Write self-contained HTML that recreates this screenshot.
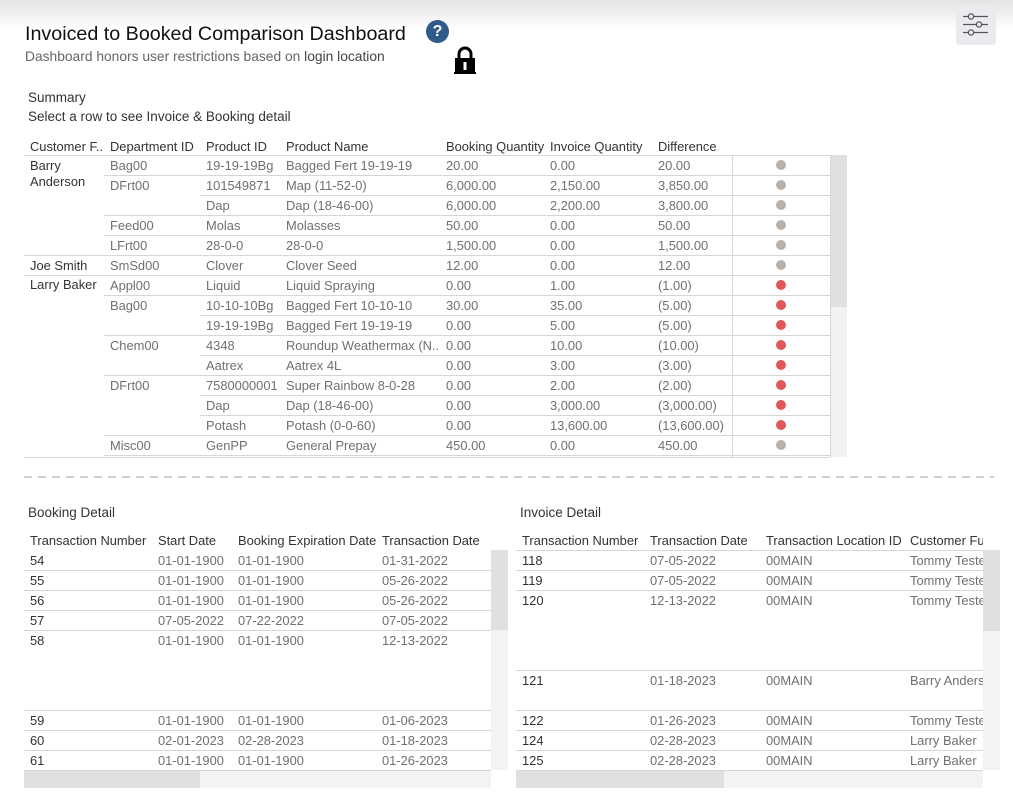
<!DOCTYPE html>
<html><head><meta charset="utf-8">
<style>
*{margin:0;padding:0;box-sizing:border-box}
body{width:1013px;height:805px;position:relative;overflow:hidden;background:#fff;font-family:"Liberation Sans",sans-serif}
.a{position:absolute;white-space:nowrap}
.t{position:absolute;white-space:nowrap;font-size:12.9px;line-height:20px;color:#707070;margin-top:1px}
.h{color:#333}
.d{color:#333}
.ln{position:absolute;height:1px;background:#d6d6d6}
.vl{position:absolute;width:1px;background:#d6d6d6}
.dot{position:absolute;width:10px;height:10px;border-radius:50%}
.g{background:#bab0ac}
.r{background:#e15759}
.sb{position:absolute}
</style></head><body>
<div class="a" style="left:0;top:0;width:1013px;height:30px;background:linear-gradient(#e4e4e4,#fff)"></div>

<div class="a" style="left:25px;top:22px;font-size:19.7px;color:#111;line-height:24px">Invoiced to Booked Comparison Dashboard</div>
<div class="a" style="left:25px;top:48px;font-size:13.8px;color:#666;line-height:17px">Dashboard honors user restrictions based on <span style="color:#444">login location</span></div>

<div class="a" style="left:426px;top:20px;width:23px;height:23px;border-radius:50%;background:#2f5b88;color:#fff;font-size:16px;font-weight:bold;text-align:center;line-height:23px">?</div>
<svg class="a" style="left:453px;top:46px" width="24" height="30" viewBox="0 0 24 30">
<path d="M6 13 V8 a6 6 0 0 1 12 0 V13" fill="none" stroke="#000" stroke-width="3"/>
<rect x="2" y="12" width="20" height="16" fill="#000"/>
<rect x="1" y="26" width="22" height="2" fill="#000"/>
<rect x="10.5" y="16" width="3" height="8" fill="#fff"/>
</svg>

<div class="a" style="left:956px;top:5px;width:40px;height:40px;background:#ebebef;border-radius:3px"></div>
<svg class="a" style="left:956px;top:5px" width="40" height="40">
<g stroke="#555" stroke-width="1.3" fill="#ebebef">
<line x1="7" y1="11.5" x2="32" y2="11.5"/>
<line x1="7" y1="19.5" x2="32" y2="19.5"/>
<line x1="7" y1="27.5" x2="32" y2="27.5"/>
<circle cx="15" cy="11.5" r="2.6"/>
<circle cx="23" cy="19.5" r="2.6"/>
<circle cx="15" cy="27.5" r="2.6"/>
</g></svg>

<div class="a" style="left:28px;top:89px;font-size:13.5px;color:#333;line-height:17px">Summary</div>
<div class="a" style="left:28px;top:108px;font-size:13.5px;color:#333;line-height:17px">Select a row to see Invoice &amp; Booking detail</div>

<!-- Summary header -->
<div class="t h" style="left:30px;top:136px">Customer F..</div>
<div class="t h" style="left:110px;top:136px">Department ID</div>
<div class="t h" style="left:206px;top:136px">Product ID</div>
<div class="t h" style="left:286px;top:136px">Product Name</div>
<div class="t h" style="left:446px;top:136px">Booking Quantity</div>
<div class="t h" style="left:550px;top:136px">Invoice Quantity</div>
<div class="t h" style="left:658px;top:136px">Difference</div>
<div class="ln" style="left:24px;top:155px;width:806px"></div>

<!-- scrollbar summary -->
<div class="sb" style="left:830px;top:155px;width:17px;height:152px;background:#e0e0e0"></div>
<div class="sb" style="left:830px;top:307px;width:17px;height:150px;background:#f2f2f2"></div>
<div class="vl" style="left:732px;top:155px;height:302px"></div>
<div class="vl" style="left:830px;top:155px;height:302px"></div>

<!-- row lines -->
<div class="ln" style="left:104px;top:175px;width:726px"></div>
<div class="ln" style="left:200px;top:195px;width:630px"></div>
<div class="ln" style="left:104px;top:215px;width:726px"></div>
<div class="ln" style="left:104px;top:235px;width:726px"></div>
<div class="ln" style="left:24px;top:255px;width:806px"></div>
<div class="ln" style="left:24px;top:275px;width:806px"></div>
<div class="ln" style="left:104px;top:295px;width:726px"></div>
<div class="ln" style="left:200px;top:315px;width:630px"></div>
<div class="ln" style="left:104px;top:335px;width:726px"></div>
<div class="ln" style="left:200px;top:355px;width:630px"></div>
<div class="ln" style="left:104px;top:375px;width:726px"></div>
<div class="ln" style="left:200px;top:395px;width:630px"></div>
<div class="ln" style="left:200px;top:415px;width:630px"></div>
<div class="ln" style="left:104px;top:435px;width:726px"></div>
<div class="ln" style="left:104px;top:455px;width:726px"></div>
<div class="ln" style="left:24px;top:457px;width:806px"></div>

<!-- customers -->
<div class="t d" style="left:30px;top:155px">Barry</div>
<div class="t d" style="left:30px;top:171px">Anderson</div>
<div class="t d" style="left:30px;top:255px">Joe Smith</div>
<div class="t d" style="left:30px;top:274px">Larry Baker</div>

<!-- departments -->
<div class="t" style="left:110px;top:155px">Bag00</div>
<div class="t" style="left:110px;top:175px">DFrt00</div>
<div class="t" style="left:110px;top:215px">Feed00</div>
<div class="t" style="left:110px;top:235px">LFrt00</div>
<div class="t" style="left:110px;top:255px">SmSd00</div>
<div class="t" style="left:110px;top:275px">Appl00</div>
<div class="t" style="left:110px;top:295px">Bag00</div>
<div class="t" style="left:110px;top:335px">Chem00</div>
<div class="t" style="left:110px;top:375px">DFrt00</div>
<div class="t" style="left:110px;top:435px">Misc00</div>

<!-- product id -->
<div class="t" style="left:206px;top:155px">19-19-19Bg</div>
<div class="t" style="left:206px;top:175px">101549871</div>
<div class="t" style="left:206px;top:195px">Dap</div>
<div class="t" style="left:206px;top:215px">Molas</div>
<div class="t" style="left:206px;top:235px">28-0-0</div>
<div class="t" style="left:206px;top:255px">Clover</div>
<div class="t" style="left:206px;top:275px">Liquid</div>
<div class="t" style="left:206px;top:295px">10-10-10Bg</div>
<div class="t" style="left:206px;top:315px">19-19-19Bg</div>
<div class="t" style="left:206px;top:335px">4348</div>
<div class="t" style="left:206px;top:355px">Aatrex</div>
<div class="t" style="left:206px;top:375px">7580000001</div>
<div class="t" style="left:206px;top:395px">Dap</div>
<div class="t" style="left:206px;top:415px">Potash</div>
<div class="t" style="left:206px;top:435px">GenPP</div>

<!-- product name -->
<div class="t" style="left:286px;top:155px">Bagged Fert 19-19-19</div>
<div class="t" style="left:286px;top:175px">Map (11-52-0)</div>
<div class="t" style="left:286px;top:195px">Dap (18-46-00)</div>
<div class="t" style="left:286px;top:215px">Molasses</div>
<div class="t" style="left:286px;top:235px">28-0-0</div>
<div class="t" style="left:286px;top:255px">Clover Seed</div>
<div class="t" style="left:286px;top:275px">Liquid Spraying</div>
<div class="t" style="left:286px;top:295px">Bagged Fert 10-10-10</div>
<div class="t" style="left:286px;top:315px">Bagged Fert 19-19-19</div>
<div class="t" style="left:286px;top:335px">Roundup Weathermax (N..</div>
<div class="t" style="left:286px;top:355px">Aatrex 4L</div>
<div class="t" style="left:286px;top:375px">Super Rainbow 8-0-28</div>
<div class="t" style="left:286px;top:395px">Dap (18-46-00)</div>
<div class="t" style="left:286px;top:415px">Potash (0-0-60)</div>
<div class="t" style="left:286px;top:435px">General Prepay</div>

<!-- booking qty -->
<div class="t" style="left:446px;top:155px">20.00</div>
<div class="t" style="left:446px;top:175px">6,000.00</div>
<div class="t" style="left:446px;top:195px">6,000.00</div>
<div class="t" style="left:446px;top:215px">50.00</div>
<div class="t" style="left:446px;top:235px">1,500.00</div>
<div class="t" style="left:446px;top:255px">12.00</div>
<div class="t" style="left:446px;top:275px">0.00</div>
<div class="t" style="left:446px;top:295px">30.00</div>
<div class="t" style="left:446px;top:315px">0.00</div>
<div class="t" style="left:446px;top:335px">0.00</div>
<div class="t" style="left:446px;top:355px">0.00</div>
<div class="t" style="left:446px;top:375px">0.00</div>
<div class="t" style="left:446px;top:395px">0.00</div>
<div class="t" style="left:446px;top:415px">0.00</div>
<div class="t" style="left:446px;top:435px">450.00</div>

<!-- invoice qty -->
<div class="t" style="left:550px;top:155px">0.00</div>
<div class="t" style="left:550px;top:175px">2,150.00</div>
<div class="t" style="left:550px;top:195px">2,200.00</div>
<div class="t" style="left:550px;top:215px">0.00</div>
<div class="t" style="left:550px;top:235px">0.00</div>
<div class="t" style="left:550px;top:255px">0.00</div>
<div class="t" style="left:550px;top:275px">1.00</div>
<div class="t" style="left:550px;top:295px">35.00</div>
<div class="t" style="left:550px;top:315px">5.00</div>
<div class="t" style="left:550px;top:335px">10.00</div>
<div class="t" style="left:550px;top:355px">3.00</div>
<div class="t" style="left:550px;top:375px">2.00</div>
<div class="t" style="left:550px;top:395px">3,000.00</div>
<div class="t" style="left:550px;top:415px">13,600.00</div>
<div class="t" style="left:550px;top:435px">0.00</div>

<!-- difference -->
<div class="t" style="left:658px;top:155px">20.00</div>
<div class="t" style="left:658px;top:175px">3,850.00</div>
<div class="t" style="left:658px;top:195px">3,800.00</div>
<div class="t" style="left:658px;top:215px">50.00</div>
<div class="t" style="left:658px;top:235px">1,500.00</div>
<div class="t" style="left:658px;top:255px">12.00</div>
<div class="t" style="left:658px;top:275px">(1.00)</div>
<div class="t" style="left:658px;top:295px">(5.00)</div>
<div class="t" style="left:658px;top:315px">(5.00)</div>
<div class="t" style="left:658px;top:335px">(10.00)</div>
<div class="t" style="left:658px;top:355px">(3.00)</div>
<div class="t" style="left:658px;top:375px">(2.00)</div>
<div class="t" style="left:658px;top:395px">(3,000.00)</div>
<div class="t" style="left:658px;top:415px">(13,600.00)</div>
<div class="t" style="left:658px;top:435px">450.00</div>

<!-- dots -->
<div class="dot g" style="left:776px;top:160px"></div>
<div class="dot g" style="left:776px;top:180px"></div>
<div class="dot g" style="left:776px;top:200px"></div>
<div class="dot g" style="left:776px;top:220px"></div>
<div class="dot g" style="left:776px;top:240px"></div>
<div class="dot g" style="left:776px;top:260px"></div>
<div class="dot r" style="left:776px;top:280px"></div>
<div class="dot r" style="left:776px;top:300px"></div>
<div class="dot r" style="left:776px;top:320px"></div>
<div class="dot r" style="left:776px;top:340px"></div>
<div class="dot r" style="left:776px;top:360px"></div>
<div class="dot r" style="left:776px;top:380px"></div>
<div class="dot r" style="left:776px;top:400px"></div>
<div class="dot r" style="left:776px;top:420px"></div>
<div class="dot g" style="left:776px;top:440px"></div>

<!-- dashed separator -->
<div class="a" style="left:24px;top:476px;width:970px;height:2px;background:repeating-linear-gradient(90deg,#cfcfcf 0 8px,transparent 8px 14px)"></div>

<!-- Booking detail -->
<div class="a" style="left:28px;top:504px;font-size:13.5px;color:#333;line-height:17px">Booking Detail</div>
<div class="t h" style="left:30px;top:530px">Transaction Number</div>
<div class="t h" style="left:158px;top:530px">Start Date</div>
<div class="t h" style="left:238px;top:530px">Booking Expiration Date</div>
<div class="t h" style="left:382px;top:530px">Transaction Date</div>

<div class="ln" style="left:24px;top:570px;width:467px"></div>
<div class="ln" style="left:24px;top:590px;width:467px"></div>
<div class="ln" style="left:24px;top:610px;width:467px"></div>
<div class="ln" style="left:24px;top:630px;width:467px"></div>
<div class="ln" style="left:24px;top:710px;width:467px"></div>
<div class="ln" style="left:24px;top:730px;width:467px"></div>
<div class="ln" style="left:24px;top:750px;width:467px"></div>
<div class="ln" style="left:24px;top:770px;width:467px"></div>

<div class="t d" style="left:30px;top:550px">54</div>
<div class="t d" style="left:30px;top:570px">55</div>
<div class="t d" style="left:30px;top:590px">56</div>
<div class="t d" style="left:30px;top:610px">57</div>
<div class="t d" style="left:30px;top:630px">58</div>
<div class="t d" style="left:30px;top:710px">59</div>
<div class="t d" style="left:30px;top:730px">60</div>
<div class="t d" style="left:30px;top:750px">61</div>

<div class="t" style="left:158px;top:550px">01-01-1900</div>
<div class="t" style="left:158px;top:570px">01-01-1900</div>
<div class="t" style="left:158px;top:590px">01-01-1900</div>
<div class="t" style="left:158px;top:610px">07-05-2022</div>
<div class="t" style="left:158px;top:630px">01-01-1900</div>
<div class="t" style="left:158px;top:710px">01-01-1900</div>
<div class="t" style="left:158px;top:730px">02-01-2023</div>
<div class="t" style="left:158px;top:750px">01-01-1900</div>

<div class="t" style="left:238px;top:550px">01-01-1900</div>
<div class="t" style="left:238px;top:570px">01-01-1900</div>
<div class="t" style="left:238px;top:590px">01-01-1900</div>
<div class="t" style="left:238px;top:610px">07-22-2022</div>
<div class="t" style="left:238px;top:630px">01-01-1900</div>
<div class="t" style="left:238px;top:710px">01-01-1900</div>
<div class="t" style="left:238px;top:730px">02-28-2023</div>
<div class="t" style="left:238px;top:750px">01-01-1900</div>

<div class="t" style="left:382px;top:550px">01-31-2022</div>
<div class="t" style="left:382px;top:570px">05-26-2022</div>
<div class="t" style="left:382px;top:590px">05-26-2022</div>
<div class="t" style="left:382px;top:610px">07-05-2022</div>
<div class="t" style="left:382px;top:630px">12-13-2022</div>
<div class="t" style="left:382px;top:710px">01-06-2023</div>
<div class="t" style="left:382px;top:730px">01-18-2023</div>
<div class="t" style="left:382px;top:750px">01-26-2023</div>

<div class="sb" style="left:491px;top:550px;width:17px;height:80px;background:#e0e0e0"></div>
<div class="sb" style="left:491px;top:630px;width:17px;height:140px;background:#f3f3f3"></div>
<div class="sb" style="left:24px;top:771px;width:176px;height:17px;background:#e0e0e0"></div>
<div class="sb" style="left:200px;top:771px;width:291px;height:17px;background:#f3f3f3"></div>

<!-- Invoice detail -->
<div class="a" style="left:520px;top:504px;font-size:13.5px;color:#333;line-height:17px">Invoice Detail</div>
<div class="a" style="left:516px;top:530px;width:467px;height:240px;overflow:hidden">
<div class="t h" style="left:6px;top:0px">Transaction Number</div>
<div class="t h" style="left:134px;top:0px">Transaction Date</div>
<div class="t h" style="left:250px;top:0px">Transaction Location ID</div>
<div class="t h" style="left:394px;top:0px">Customer Full Name</div>

<div class="t d" style="left:6px;top:20px">118</div>
<div class="t d" style="left:6px;top:40px">119</div>
<div class="t d" style="left:6px;top:60px">120</div>
<div class="t d" style="left:6px;top:140px">121</div>
<div class="t d" style="left:6px;top:180px">122</div>
<div class="t d" style="left:6px;top:200px">124</div>
<div class="t d" style="left:6px;top:220px">125</div>

<div class="t" style="left:134px;top:20px">07-05-2022</div>
<div class="t" style="left:134px;top:40px">07-05-2022</div>
<div class="t" style="left:134px;top:60px">12-13-2022</div>
<div class="t" style="left:134px;top:140px">01-18-2023</div>
<div class="t" style="left:134px;top:180px">01-26-2023</div>
<div class="t" style="left:134px;top:200px">02-28-2023</div>
<div class="t" style="left:134px;top:220px">02-28-2023</div>

<div class="t" style="left:250px;top:20px">00MAIN</div>
<div class="t" style="left:250px;top:40px">00MAIN</div>
<div class="t" style="left:250px;top:60px">00MAIN</div>
<div class="t" style="left:250px;top:140px">00MAIN</div>
<div class="t" style="left:250px;top:180px">00MAIN</div>
<div class="t" style="left:250px;top:200px">00MAIN</div>
<div class="t" style="left:250px;top:220px">00MAIN</div>

<div class="t" style="left:394px;top:20px">Tommy Tester</div>
<div class="t" style="left:394px;top:40px">Tommy Tester</div>
<div class="t" style="left:394px;top:60px">Tommy Tester</div>
<div class="t" style="left:394px;top:140px">Barry Anderson</div>
<div class="t" style="left:394px;top:180px">Tommy Tester</div>
<div class="t" style="left:394px;top:200px">Larry Baker</div>
<div class="t" style="left:394px;top:220px">Larry Baker</div>
</div>
<div class="ln" style="left:516px;top:550px;width:467px"></div>
<div class="ln" style="left:516px;top:570px;width:467px"></div>
<div class="ln" style="left:516px;top:590px;width:467px"></div>
<div class="ln" style="left:516px;top:670px;width:467px"></div>
<div class="ln" style="left:516px;top:710px;width:467px"></div>
<div class="ln" style="left:516px;top:730px;width:467px"></div>
<div class="ln" style="left:516px;top:750px;width:467px"></div>
<div class="ln" style="left:516px;top:770px;width:467px"></div>

<div class="sb" style="left:983px;top:550px;width:17px;height:81px;background:#e0e0e0"></div>
<div class="sb" style="left:983px;top:631px;width:17px;height:139px;background:#f3f3f3"></div>
<div class="sb" style="left:516px;top:771px;width:208px;height:17px;background:#e0e0e0"></div>
<div class="sb" style="left:724px;top:771px;width:259px;height:17px;background:#f3f3f3"></div>
</body></html>
